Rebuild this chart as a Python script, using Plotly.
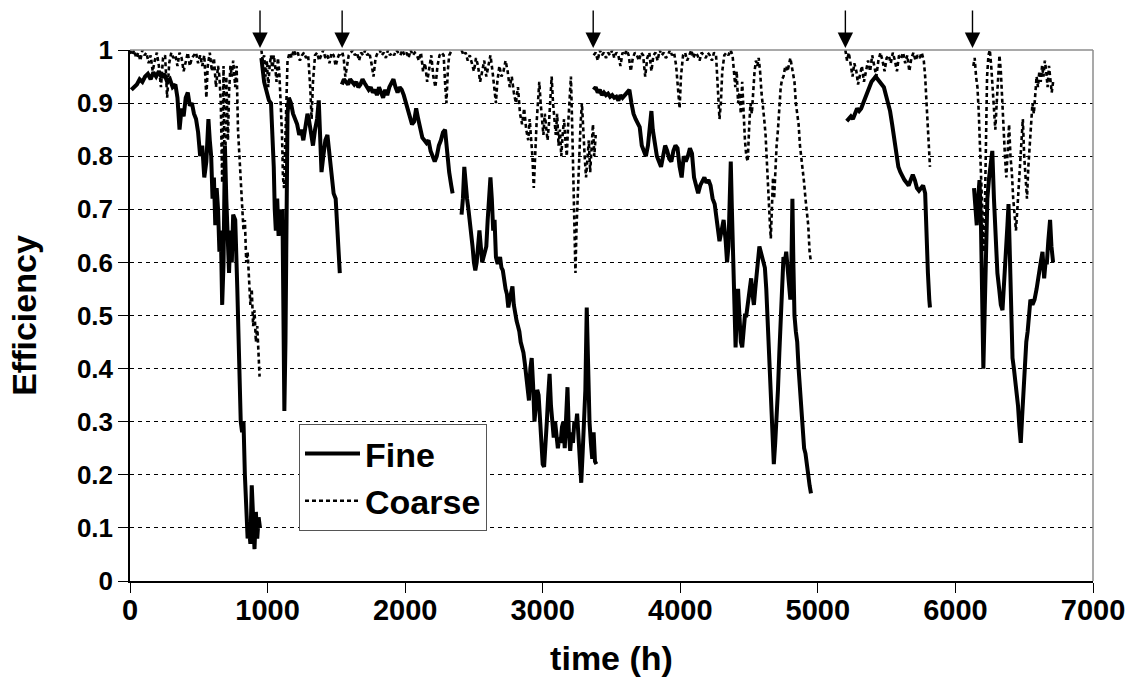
import plotly.graph_objects as go

# ---------------- data ----------------
# Fine filter efficiency, segments separated by filter changes
fine_t1 = [10, 30, 50, 70, 90, 110, 130, 150, 170, 190,
           210, 230, 250, 270, 290, 310, 330, 345, 360, 375,
           390, 405, 420, 435, 450, 465, 480, 495, 510, 525,
           540, 555, 570, 580, 590, 600, 610, 620, 630, 640,
           650, 660, 670, 680, 690, 700, 710, 720, 730, 740,
           750, 765, 780, 795, 805, 815, 825, 835, 845, 855,
           865, 875, 885, 895, 905, 915, 925, 935, 945]
fine_v1 = [0.925, 0.93, 0.935, 0.945, 0.94, 0.95, 0.955, 0.945, 0.958, 0.95,
           0.96, 0.948, 0.955, 0.94, 0.945, 0.93, 0.935, 0.91, 0.85, 0.89,
           0.875, 0.91, 0.92, 0.895, 0.9, 0.88, 0.87, 0.845, 0.8, 0.82,
           0.76, 0.79, 0.87, 0.83, 0.8, 0.72, 0.76, 0.67, 0.74, 0.7,
           0.62, 0.66, 0.52, 0.6, 0.82, 0.72, 0.64, 0.58, 0.66, 0.6,
           0.69, 0.68, 0.55, 0.42, 0.3, 0.28, 0.3, 0.2, 0.12, 0.08,
           0.1, 0.07, 0.18, 0.1, 0.06, 0.13, 0.08, 0.12, 0.1]

fine_t2 = [955, 965, 975, 985, 995, 1010, 1025, 1035, 1045, 1052,
           1060, 1070, 1080, 1090, 1100, 1108, 1115, 1122, 1130, 1138,
           1145, 1155, 1170, 1185, 1200, 1215, 1230, 1245, 1260, 1275,
           1290, 1300, 1315, 1330, 1345, 1360, 1372, 1382, 1392, 1405,
           1420, 1435, 1450, 1465, 1480, 1495, 1505, 1515, 1525]
fine_v2 = [0.985, 0.95, 0.94, 0.93, 0.92, 0.905, 0.9, 0.85, 0.78, 0.7,
           0.66, 0.72, 0.65, 0.7, 0.66, 0.7, 0.55, 0.32, 0.45, 0.7,
           0.88, 0.91, 0.9, 0.88, 0.87, 0.86, 0.84, 0.85, 0.83, 0.86,
           0.88, 0.87, 0.84, 0.82, 0.85, 0.87, 0.905, 0.8, 0.77, 0.8,
           0.83, 0.84, 0.8, 0.76, 0.73, 0.72, 0.68, 0.64, 0.58]

fine_t3 = [1540, 1555, 1570, 1585, 1600, 1615, 1630, 1645, 1660, 1675,
           1690, 1705, 1720, 1735, 1750, 1765, 1780, 1795, 1810, 1825,
           1840, 1855, 1870, 1885, 1900, 1915, 1930, 1945, 1960, 1975,
           1990, 2005, 2020, 2035, 2050, 2065, 2080, 2095, 2110, 2125,
           2140, 2155, 2170, 2185, 2200, 2215, 2230, 2245, 2260, 2275,
           2290, 2305, 2320, 2335, 2345]
fine_v3 = [0.935, 0.945, 0.94, 0.935, 0.945, 0.94, 0.935, 0.94, 0.93, 0.935,
           0.945, 0.938, 0.93, 0.925, 0.93, 0.92, 0.925, 0.915, 0.93, 0.92,
           0.91, 0.925, 0.915, 0.93, 0.94, 0.945, 0.93, 0.92, 0.93, 0.925,
           0.915, 0.9, 0.89, 0.875, 0.86, 0.865, 0.89, 0.87, 0.85, 0.835,
           0.83, 0.825, 0.83, 0.81, 0.8, 0.79, 0.8, 0.82, 0.83, 0.845,
           0.85, 0.8, 0.77, 0.745, 0.73]

fine_t4 = [2410, 2420, 2430, 2440, 2450, 2460, 2470, 2480, 2490, 2500,
           2510, 2520, 2530, 2540, 2550, 2560, 2570, 2580, 2590, 2600,
           2610, 2620, 2630, 2640, 2650, 2660, 2670, 2680, 2690, 2700,
           2710, 2720, 2730, 2740, 2750, 2760, 2770, 2780, 2790, 2800,
           2810, 2820, 2830, 2840, 2850, 2860, 2870, 2880, 2890, 2900,
           2910, 2920, 2930, 2940, 2950, 2960, 2970, 2980, 2990, 3000,
           3010, 3020, 3030, 3040, 3050, 3060, 3070, 3080, 3090, 3100,
           3110, 3120, 3130, 3140, 3150, 3160, 3170, 3180, 3190, 3200,
           3210, 3220, 3230, 3240, 3250, 3260, 3270, 3280, 3290, 3300,
           3310, 3320, 3330, 3340, 3350, 3360, 3370, 3380, 3390]
fine_v4 = [0.69, 0.72, 0.78, 0.74, 0.72, 0.7, 0.68, 0.65, 0.63, 0.6,
           0.585, 0.6, 0.64, 0.66, 0.63, 0.6, 0.61, 0.62, 0.63, 0.68,
           0.72, 0.76, 0.72, 0.66, 0.68, 0.61, 0.6, 0.6, 0.61, 0.59,
           0.585, 0.56, 0.55, 0.54, 0.515, 0.53, 0.545, 0.555, 0.52, 0.5,
           0.49, 0.48, 0.47, 0.45, 0.44, 0.43, 0.41, 0.38, 0.37, 0.34,
           0.4, 0.42, 0.37, 0.3, 0.33, 0.36, 0.35, 0.3, 0.26, 0.22,
           0.215, 0.25, 0.3, 0.35, 0.39, 0.33, 0.29, 0.27, 0.3, 0.27,
           0.25, 0.27, 0.26, 0.29, 0.3, 0.25, 0.3, 0.365, 0.28, 0.245,
           0.28, 0.26, 0.3, 0.29, 0.315, 0.26, 0.21, 0.185, 0.24, 0.3,
           0.36, 0.515, 0.4, 0.3, 0.26, 0.23, 0.28, 0.225, 0.22]

fine_t5 = [3370, 3385, 3400, 3415, 3430, 3445, 3460, 3475, 3490, 3505,
           3520, 3535, 3550, 3565, 3580, 3600, 3615, 3630, 3645, 3660,
           3675, 3690, 3705, 3720, 3735, 3750, 3765, 3780, 3790, 3800,
           3815, 3830, 3845, 3860, 3875, 3890, 3905, 3920, 3935, 3950,
           3965, 3980, 3995, 4010, 4025, 4040, 4055, 4070, 4085, 4100,
           4115, 4130, 4145, 4160, 4175, 4190, 4205, 4220, 4235, 4250,
           4265, 4275, 4285, 4300, 4315, 4330, 4340, 4350, 4360, 4367,
           4375, 4385, 4395, 4402, 4410, 4420, 4430, 4440, 4450, 4460,
           4470, 4480, 4495, 4505, 4515, 4525, 4535, 4545, 4555, 4565,
           4575, 4585, 4595, 4605, 4615, 4625, 4635, 4645, 4655, 4665,
           4672, 4680, 4690, 4700, 4710, 4720, 4730, 4740, 4750, 4760,
           4770, 4780, 4790, 4800, 4808, 4815, 4822, 4830, 4840, 4850,
           4860, 4870, 4880, 4890, 4900, 4910, 4920, 4930, 4940, 4950]
fine_v5 = [0.925, 0.93, 0.92, 0.925, 0.915, 0.92, 0.915, 0.918, 0.912, 0.915,
           0.91, 0.912, 0.905, 0.915, 0.91, 0.915, 0.92, 0.925, 0.9, 0.88,
           0.87, 0.86, 0.855, 0.82, 0.81, 0.8, 0.82, 0.86, 0.885, 0.85,
           0.82, 0.8, 0.79, 0.78, 0.8, 0.82, 0.81, 0.795, 0.79, 0.81,
           0.82, 0.815, 0.78, 0.76, 0.8, 0.79, 0.8, 0.815, 0.805, 0.76,
           0.745, 0.73, 0.745, 0.755, 0.76, 0.75, 0.755, 0.745, 0.72, 0.71,
           0.68, 0.65, 0.64, 0.66, 0.68, 0.64, 0.6, 0.63, 0.75, 0.79,
           0.7, 0.6, 0.52, 0.44, 0.5, 0.55, 0.5, 0.45, 0.44, 0.48,
           0.5, 0.5, 0.53, 0.56, 0.57, 0.54, 0.52, 0.55, 0.58, 0.62,
           0.63, 0.62, 0.61, 0.6, 0.59, 0.55, 0.49, 0.44, 0.38, 0.3,
           0.27, 0.22, 0.26, 0.3, 0.36, 0.43, 0.5, 0.58, 0.61, 0.6,
           0.62, 0.59, 0.55, 0.53, 0.6, 0.72, 0.6, 0.5, 0.47, 0.45,
           0.4, 0.36, 0.34, 0.3, 0.25, 0.24, 0.21, 0.2, 0.18, 0.165]

fine_t6 = [5210, 5225, 5240, 5255, 5270, 5285, 5300, 5315, 5330, 5345,
           5360, 5375, 5390, 5405, 5420, 5435, 5450, 5465, 5480, 5495,
           5510, 5525, 5540, 5555, 5570, 5585, 5600, 5615, 5630, 5645,
           5660, 5675, 5690, 5705, 5720, 5735, 5750, 5765, 5780,
           5790, 5800, 5810, 5815]
fine_v6 = [0.866, 0.87, 0.875, 0.87, 0.88, 0.89, 0.885, 0.89, 0.9, 0.91,
           0.92, 0.935, 0.94, 0.945, 0.95, 0.945, 0.94, 0.935, 0.93, 0.915,
           0.9, 0.885, 0.86, 0.83, 0.8, 0.78, 0.77, 0.76, 0.755, 0.75,
           0.745, 0.755, 0.765, 0.755, 0.74, 0.735, 0.74, 0.745, 0.73,
           0.62, 0.58, 0.53, 0.515]

fine_t7 = [6135, 6145, 6155, 6165, 6175, 6185, 6195, 6203, 6212, 6222,
           6232, 6245, 6258, 6268, 6280, 6292, 6305, 6318, 6330, 6342,
           6355, 6368, 6378, 6386, 6395, 6405, 6415, 6425, 6440, 6455,
           6465, 6475, 6485, 6495, 6505, 6515, 6525, 6535, 6545, 6560,
           6575, 6590, 6605, 6620, 6633, 6645, 6655, 6665, 6675, 6688,
           6698, 6710]
fine_v7 = [0.74, 0.7, 0.67, 0.72, 0.755, 0.68, 0.52, 0.4, 0.5, 0.63,
           0.72, 0.76, 0.79, 0.81, 0.72, 0.64, 0.58, 0.55, 0.52, 0.51,
           0.56, 0.62, 0.67, 0.71, 0.6, 0.46, 0.42, 0.4, 0.37, 0.33,
           0.29, 0.26, 0.31, 0.36, 0.41, 0.45, 0.47, 0.5, 0.53, 0.52,
           0.53, 0.55, 0.58, 0.6, 0.62, 0.57, 0.6, 0.6, 0.64, 0.68,
           0.63, 0.6]

# Coarse filter efficiency
coarse_t1 = [0, 15, 30, 45, 60, 75, 90, 105, 120, 135,
             150, 165, 180, 195, 210, 225, 240, 255, 270, 285,
             300, 315, 330, 345, 360, 375, 390, 405, 420, 435,
             450, 465, 480, 495, 510, 525, 540, 555, 565, 580,
             595, 610, 625, 640, 650, 660, 670, 680, 690, 700,
             712, 720, 730, 740, 750, 765, 775, 785, 795, 805,
             815, 825, 835, 845, 855, 865, 875, 885, 895, 905,
             915, 925, 935, 942]
coarse_v1 = [1.0, 0.99, 1.0, 0.985, 0.995, 0.98, 1.0, 0.99, 0.995, 0.975,
             0.99, 0.96, 0.98, 0.995, 0.97, 0.93, 0.985, 0.99, 0.91, 0.975,
             0.995, 0.985, 0.99, 0.97, 0.995, 0.985, 0.96, 0.98, 0.995, 0.97,
             0.985, 0.99, 0.995, 0.975, 0.99, 0.97, 0.99, 0.91, 0.97, 0.995,
             0.96, 0.985, 0.93, 0.97, 0.95, 0.9, 0.75, 0.97, 0.72, 0.95,
             0.83, 0.92, 0.97, 0.95, 0.98, 0.93, 0.97, 0.85, 0.8, 0.76,
             0.72, 0.66, 0.68, 0.6, 0.62, 0.56, 0.52, 0.55, 0.48, 0.51,
             0.45, 0.48, 0.41, 0.385]

coarse_t2 = [955, 965, 975, 985, 995, 1005, 1015, 1025, 1035, 1045,
             1055, 1065, 1075, 1085, 1095, 1105, 1112, 1120, 1128, 1136,
             1145, 1160, 1175, 1190, 1205, 1220, 1235, 1250, 1265, 1280,
             1295, 1310, 1320, 1330, 1345, 1360, 1375, 1390, 1405, 1420,
             1435, 1450, 1465, 1480, 1495, 1510, 1525, 1535]
coarse_v2 = [1.0, 0.98, 0.99, 0.95, 0.98, 0.93, 0.97, 0.99, 0.96, 0.99,
             0.97, 0.94, 0.985, 0.96, 0.9, 0.84, 0.76, 0.74, 0.82, 0.92,
             0.98, 0.995, 0.985, 1.0, 0.99, 0.995, 0.98, 0.99, 0.995, 0.985,
             0.99, 0.93, 0.87, 0.94, 0.99, 0.995, 0.98, 0.99, 1.0, 0.985,
             0.99, 0.975, 0.995, 0.99, 0.97, 0.985, 0.995, 0.99]

coarse_t3 = [1545, 1555, 1565, 1575, 1590, 1605, 1620, 1635, 1650, 1665,
             1680, 1695, 1710, 1725, 1740, 1755, 1770, 1785, 1800, 1815,
             1830, 1845, 1860, 1875, 1890, 1905, 1920, 1935, 1950, 1965,
             1980, 1995, 2010, 2025, 2040, 2055, 2070, 2085, 2100, 2115,
             2130, 2145, 2160, 2175, 2190, 2205, 2220, 2235, 2250, 2265,
             2280, 2290, 2300, 2310, 2320, 2330, 2340]
coarse_v3 = [0.995, 0.98, 0.95, 0.97, 0.99, 0.995, 1.0, 0.99, 0.995, 0.98,
             0.995, 0.99, 1.0, 0.99, 0.995, 0.975, 0.95, 0.985, 0.995, 1.0,
             0.99, 0.995, 0.985, 1.0, 0.99, 0.995, 0.99, 1.0, 0.995, 0.99,
             1.0, 0.99, 0.995, 0.985, 1.0, 0.99, 0.995, 0.99, 0.98, 0.995,
             0.96, 0.975, 0.94, 0.97, 0.99, 0.95, 0.93, 0.97, 0.99, 0.995,
             0.99, 0.94, 0.9, 0.96, 0.99, 0.995, 1.0]

coarse_t4 = [2410, 2425, 2440, 2455, 2470, 2485, 2500, 2515, 2530, 2545,
             2560, 2575, 2590, 2605, 2620, 2635, 2650, 2660, 2670, 2685,
             2700, 2715, 2730, 2745, 2760, 2775, 2790, 2805, 2820, 2835,
             2850, 2865, 2880, 2895, 2905, 2915, 2925, 2935, 2945, 2955,
             2965, 2975, 2985, 2995, 3005, 3015, 3025, 3035, 3045, 3055,
             3065, 3075, 3085, 3095, 3105, 3115, 3125, 3135, 3145, 3155,
             3165, 3175, 3185, 3195, 3205, 3215, 3225, 3232, 3238, 3245,
             3255, 3265, 3275, 3285, 3295, 3305, 3315, 3325, 3335, 3345,
             3355, 3365, 3375, 3385]
coarse_v4 = [1.0, 0.99, 0.995, 0.98, 0.99, 0.975, 0.96, 0.985, 0.97, 0.94,
             0.96, 0.98, 0.95, 0.97, 0.99, 0.96, 0.93, 0.9, 0.94, 0.97,
             0.95, 0.96, 0.98, 0.96, 0.93, 0.95, 0.92, 0.9, 0.93, 0.88,
             0.86, 0.89, 0.85, 0.83, 0.87, 0.84, 0.8, 0.74, 0.82, 0.86,
             0.9, 0.94, 0.9, 0.87, 0.84, 0.88, 0.85, 0.83, 0.86, 0.92,
             0.95, 0.9, 0.87, 0.84, 0.88, 0.82, 0.85, 0.8, 0.84, 0.87,
             0.83, 0.8, 0.86, 0.9, 0.95, 0.85, 0.72, 0.63, 0.58, 0.66,
             0.74, 0.8, 0.86, 0.9, 0.84, 0.8, 0.76, 0.79, 0.83, 0.77,
             0.81, 0.86, 0.8, 0.84]

coarse_t5 = [3370, 3385, 3400, 3415, 3430, 3445, 3460, 3475, 3490, 3505,
             3520, 3535, 3550, 3565, 3580, 3595, 3610, 3625, 3640, 3655,
             3670, 3685, 3700, 3715, 3730, 3745, 3760, 3775, 3790, 3805,
             3820, 3835, 3850, 3865, 3880, 3895, 3910, 3925, 3940, 3955,
             3970, 3985, 3995, 4005, 4020, 4035, 4050, 4065, 4080, 4095,
             4110, 4125, 4140, 4155, 4170, 4185, 4200, 4215, 4230, 4245,
             4260, 4275, 4285, 4295, 4305, 4320, 4335, 4350, 4365, 4380,
             4390, 4400, 4410, 4420, 4430, 4440, 4450, 4460, 4470, 4480,
             4490, 4500, 4510, 4520, 4530, 4540, 4550, 4560, 4570, 4580,
             4590, 4600, 4610, 4620, 4630, 4640, 4650, 4658, 4666, 4674,
             4682, 4690, 4700, 4710, 4720, 4730, 4740, 4750, 4760, 4770,
             4780, 4790, 4800, 4810, 4820, 4830, 4840, 4850, 4860, 4870,
             4880, 4890, 4900, 4910, 4920, 4930, 4940, 4950]
coarse_v5 = [0.99, 0.995, 0.98, 1.0, 0.99, 0.995, 0.985, 0.995, 0.99, 1.0,
             0.985, 0.995, 0.99, 0.97, 0.995, 0.99, 1.0, 0.99, 0.96, 0.985,
             0.995, 0.99, 0.98, 0.995, 0.99, 0.95, 0.985, 0.995, 0.96, 0.99,
             0.995, 0.98, 1.0, 0.99, 0.995, 0.985, 0.99, 1.0, 0.99, 0.995,
             0.97, 0.93, 0.89, 0.95, 0.99, 0.995, 0.98, 0.99, 1.0, 0.985,
             0.995, 0.99, 0.98, 0.995, 0.99, 0.985, 0.995, 0.99, 0.98, 0.995,
             0.99, 0.93, 0.87, 0.9, 0.96, 0.99, 0.995, 0.99, 1.0, 0.99,
             0.95, 0.93, 0.96, 0.9, 0.92, 0.88, 0.94, 0.87, 0.83, 0.8,
             0.79, 0.85, 0.9, 0.88, 0.93, 0.96, 0.98, 0.97, 0.985, 0.96,
             0.92, 0.9, 0.87, 0.84, 0.78, 0.72, 0.68, 0.645, 0.7, 0.76,
             0.72, 0.78, 0.82, 0.85, 0.9, 0.93, 0.945, 0.95, 0.965, 0.97,
             0.96, 0.975, 0.985, 0.97, 0.95, 0.94, 0.9, 0.88, 0.86, 0.82,
             0.8, 0.78, 0.75, 0.72, 0.7, 0.67, 0.62, 0.6]

coarse_t6 = [5200, 5212, 5225, 5240, 5252, 5265, 5280, 5292, 5305, 5320,
             5335, 5350, 5365, 5380, 5395, 5410, 5425, 5440, 5455, 5470,
             5485, 5500, 5515, 5530, 5545, 5560, 5575, 5590, 5605, 5620,
             5635, 5650, 5665, 5680, 5695, 5710, 5725, 5740, 5755, 5770,
             5780, 5790, 5800, 5808, 5815]
coarse_v6 = [1.0, 0.98, 0.995, 0.97, 0.95, 0.975, 0.96, 0.935, 0.955, 0.97,
             0.94, 0.96, 0.98, 0.96, 0.99, 0.97, 0.95, 0.98, 0.995, 0.98,
             0.96, 0.985, 0.99, 0.975, 0.995, 0.98, 0.96, 0.99, 0.985, 0.995,
             0.975, 0.99, 0.96, 0.985, 0.995, 0.98, 0.99, 0.985, 0.995, 0.98,
             0.95, 0.9, 0.84, 0.8, 0.78]

coarse_t7 = [6130, 6140, 6150, 6160, 6170, 6180, 6190, 6198, 6206, 6214,
             6222, 6230, 6240, 6250, 6260, 6270, 6280, 6290, 6300, 6310,
             6320, 6330, 6340, 6350, 6360, 6370, 6380, 6390, 6400, 6410,
             6420, 6430, 6440, 6450, 6460, 6470, 6480, 6490, 6500, 6510,
             6520, 6530, 6540, 6550, 6560, 6570, 6580, 6590, 6600, 6610,
             6620, 6630, 6640, 6650, 6660, 6670, 6680, 6690, 6700, 6710]
coarse_v7 = [0.97, 0.985, 0.95, 0.93, 0.88, 0.8, 0.72, 0.65, 0.62, 0.7,
             0.85, 0.95, 0.99, 1.0, 0.97, 0.93, 0.88, 0.85, 0.9, 0.95,
             0.99, 0.96, 0.9, 0.83, 0.8, 0.76, 0.81, 0.86, 0.8, 0.77,
             0.72, 0.69, 0.66, 0.7, 0.74, 0.78, 0.83, 0.87, 0.8, 0.76,
             0.72, 0.78, 0.82, 0.86, 0.9, 0.88, 0.92, 0.95, 0.93, 0.96,
             0.94, 0.97, 0.95, 0.98, 0.96, 0.93, 0.97, 0.95, 0.92, 0.94]

# filter-change markers (arrows above the plot)
arrow_times = [945, 1542, 3367, 5200, 6124]

x_ticks = [0, 1000, 2000, 3000, 4000, 5000, 6000, 7000]
y_ticks = [0, 0.1, 0.2, 0.3, 0.4, 0.5, 0.6, 0.7, 0.8, 0.9, 1]
y_tick_text = ["0", "0.1", "0.2", "0.3", "0.4", "0.5", "0.6", "0.7", "0.8", "0.9", "1"]


def join(ts_list, vs_list):
    xs, ys = [], []
    for ts, vs in zip(ts_list, vs_list):
        if xs:
            xs.append(None)
            ys.append(None)
        for t, v in zip(ts, vs):
            xs.append(t)
            ys.append(v)
    return xs, ys


fine_x, fine_y = join([fine_t1, fine_t2, fine_t3, fine_t4, fine_t5, fine_t6, fine_t7],
                      [fine_v1, fine_v2, fine_v3, fine_v4, fine_v5, fine_v6, fine_v7])
coarse_x, coarse_y = join([coarse_t1, coarse_t2, coarse_t3, coarse_t4, coarse_t5, coarse_t6, coarse_t7],
                          [coarse_v1, coarse_v2, coarse_v3, coarse_v4, coarse_v5, coarse_v6, coarse_v7])

FONT = "Liberation Sans, Arial, Helvetica, sans-serif"

fig = go.Figure()
fig.add_trace(go.Scatter(
    x=fine_x, y=fine_y, mode="lines", name="Fine",
    line=dict(color="black", width=4), connectgaps=False, cliponaxis=False,
))
fig.add_trace(go.Scatter(
    x=coarse_x, y=coarse_y, mode="lines", name="Coarse",
    line=dict(color="black", width=2.6, dash="4px,3px"), connectgaps=False, cliponaxis=False,
))

for t in arrow_times:
    fig.add_annotation(
        x=t, y=1.004, xref="x", yref="paper", text=".",
        font=dict(size=6, color="rgba(0,0,0,0)"),
        showarrow=True, standoff=0, startstandoff=0,
        ax=0, ay=-42, arrowhead=2, arrowsize=2.2, arrowwidth=1.4, arrowcolor="black",
    )

# plot-area border (grey top and right)
fig.add_shape(type="line", xref="paper", yref="paper", x0=0, x1=1, y0=1, y1=1,
              line=dict(color="#8c8c8c", width=1.5), layer="above")
fig.add_shape(type="line", xref="paper", yref="paper", x0=1, x1=1, y0=0, y1=1,
              line=dict(color="#8c8c8c", width=1.5), layer="above")

fig.update_layout(
    width=1138, height=696,
    margin=dict(l=130, r=45, t=50, b=115),
    paper_bgcolor="white", plot_bgcolor="white",
    font=dict(family=FONT, color="black", size=24, weight="bold"),
    showlegend=True,
    legend=dict(
        x=0.1755, y=0.2957, xanchor="left", yanchor="top",
        bgcolor="white", bordercolor="#555555", borderwidth=1,
        font=dict(family=FONT, size=34, color="black", weight="bold"),
        itemwidth=55,
    ),
    xaxis=dict(
        range=[0, 7000], tickvals=x_ticks, ticks="outside", ticklen=10, tickwidth=1.3,
        tickcolor="black", showline=True, linecolor="black", linewidth=1.5,
        showgrid=False, zeroline=False, ticklabelstandoff=-8,
        tickfont=dict(family=FONT, size=29, weight="bold"),
        title=dict(text="time (h)", font=dict(family=FONT, size=34, weight="bold"), standoff=22),
    ),
    yaxis=dict(
        range=[0, 1], tickvals=y_ticks, ticktext=y_tick_text, ticks="outside", ticklen=10,
        tickwidth=1.3, tickcolor="black", showline=True, linecolor="black", linewidth=1.5,
        showgrid=True, gridcolor="black", gridwidth=1, griddash="4px,4px", zeroline=False,
        tickfont=dict(family=FONT, size=26, weight="bold"),
        title=dict(text="Efficiency", font=dict(family=FONT, size=34, weight="bold"), standoff=30),
    ),
)

fig.write_html("out.html")
